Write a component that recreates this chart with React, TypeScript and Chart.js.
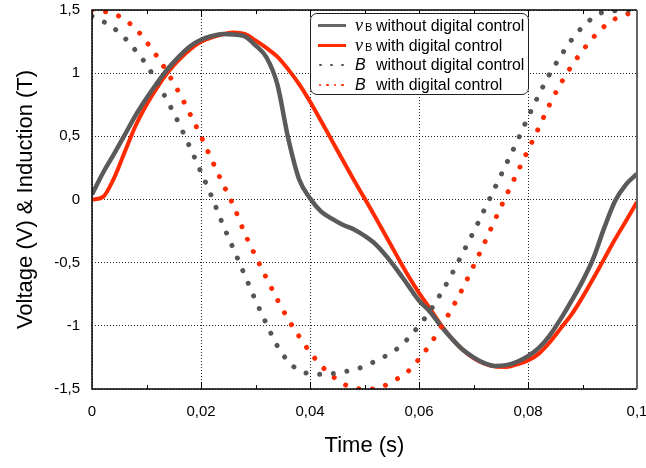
import React, { useEffect, useRef } from 'react';
import { Chart, registerables } from 'chart.js';

Chart.register(...registerables);

// Time samples (s)
const TIME = [
  0, 0.002, 0.004, 0.006, 0.008, 0.01, 0.012, 0.014, 0.016, 0.018,
  0.02, 0.022, 0.024, 0.026, 0.028, 0.03, 0.032, 0.034, 0.036, 0.038,
  0.04, 0.042, 0.044, 0.046, 0.048, 0.05, 0.052, 0.054, 0.056, 0.058,
  0.06, 0.062, 0.064, 0.066, 0.068, 0.07, 0.072, 0.074, 0.076, 0.078,
  0.08, 0.082, 0.084, 0.086, 0.088, 0.09, 0.092, 0.094, 0.096, 0.098, 0.1,
];

// vB without digital control (V)
const VB_WITHOUT = [
  0.04, 0.21, 0.358, 0.511, 0.666, 0.801, 0.926, 1.039, 1.133, 1.213,
  1.265, 1.294, 1.311, 1.306, 1.292, 1.22, 1.126, 0.913, 0.485, 0.16,
  0.01, -0.094, -0.152, -0.2, -0.235, -0.287, -0.353, -0.448, -0.559, -0.68,
  -0.8, -0.888, -0.999, -1.1, -1.187, -1.249, -1.295, -1.317, -1.311, -1.285,
  -1.24, -1.175, -1.075, -0.945, -0.8, -0.646, -0.464, -0.223, -0.01, 0.12, 0.203,
];

// vB with digital control (V)
const VB_WITH = [
  0.0, 0.02, 0.166, 0.376, 0.584, 0.75, 0.89, 1.011, 1.107, 1.188,
  1.248, 1.284, 1.308, 1.322, 1.31, 1.26, 1.2, 1.131, 1.03, 0.914,
  0.776, 0.623, 0.468, 0.313, 0.158, 0.01, -0.14, -0.295, -0.45, -0.602,
  -0.739, -0.862, -0.99, -1.1, -1.19, -1.255, -1.3, -1.322, -1.325, -1.305,
  -1.275, -1.22, -1.13, -1.02, -0.91, -0.773, -0.624, -0.468, -0.313, -0.168, -0.02,
];

// B without digital control (T)
const B_WITHOUT = [
  1.45, 1.41, 1.356, 1.279, 1.179, 1.067, 0.922, 0.767, 0.597, 0.411,
  0.217, 0.019, -0.197, -0.395, -0.596, -0.797, -0.983, -1.159, -1.281, -1.353,
  -1.379, -1.383, -1.378, -1.366, -1.347, -1.321, -1.279, -1.236, -1.181, -1.1,
  -0.999, -0.884, -0.745, -0.593, -0.426, -0.257, -0.08, 0.1, 0.28, 0.46,
  0.65, 0.83, 0.995, 1.135, 1.263, 1.366, 1.441, 1.486, 1.494, 1.5, 1.5,
];

// B with digital control (T)
const B_WITH = [
  1.5, 1.49, 1.47, 1.423, 1.352, 1.247, 1.129, 0.994, 0.843, 0.676,
  0.5, 0.311, 0.126, -0.053, -0.265, -0.447, -0.621, -0.791, -0.948, -1.084,
  -1.208, -1.313, -1.393, -1.457, -1.49, -1.5, -1.5, -1.467, -1.42, -1.36,
  -1.263, -1.148, -1.015, -0.866, -0.704, -0.526, -0.345, -0.154, 0.03, 0.21,
  0.39, 0.57, 0.755, 0.917, 1.057, 1.178, 1.283, 1.37, 1.43, 1.465, 1.49,
];

const X_MINOR_TICKS = [0.01, 0.03, 0.05, 0.07, 0.09];
const X_MAJOR_TICKS = [0.02, 0.04, 0.06, 0.08];

const GRAY = '#5a5a5a';
const RED = '#ff2a00';
const FONT = '"Liberation Sans", Arial, Helvetica, sans-serif';

const fmt = (v: number) => String(Math.round(v * 100) / 100).replace('.', ',');
const pts = (ys: number[]) => TIME.map((t, i) => ({ x: t, y: ys[i] }));

const framePlugin = {
  id: 'frame',
  afterDraw(chart: any) {
    const { ctx, chartArea: a, scales } = chart;
    ctx.save();
    ctx.strokeStyle = '#000';
    ctx.lineWidth = 1;
    ctx.setLineDash([]);
    for (const v of X_MINOR_TICKS) {
      const x = Math.round(scales.x.getPixelForValue(v)) + 0.5;
      ctx.beginPath();
      ctx.moveTo(x, a.bottom);
      ctx.lineTo(x, a.bottom - 4);
      ctx.moveTo(x, a.top);
      ctx.lineTo(x, a.top + 4);
      ctx.stroke();
    }
    for (const v of X_MAJOR_TICKS) {
      const x = Math.round(scales.x.getPixelForValue(v)) + 0.5;
      ctx.beginPath();
      ctx.moveTo(x, a.bottom);
      ctx.lineTo(x, a.bottom - 7);
      ctx.moveTo(x, a.top);
      ctx.lineTo(x, a.top + 7);
      ctx.stroke();
    }
    ctx.lineWidth = 1.5;
    ctx.strokeStyle = '#000';
    ctx.beginPath();
    ctx.moveTo(a.right, a.top);
    ctx.lineTo(a.left, a.top);
    ctx.lineTo(a.left, a.bottom);
    ctx.lineTo(a.right, a.bottom);
    ctx.stroke();
    ctx.strokeStyle = '#666';
    ctx.lineWidth = 2;
    ctx.beginPath();
    ctx.moveTo(a.right, a.top);
    ctx.lineTo(a.right, a.bottom);
    ctx.stroke();
    ctx.restore();
  },
};

const ROWS_Y = [25.7, 45.6, 65.3, 85.1];

function Legend() {
  const base: React.CSSProperties = { position: 'fixed', zIndex: 2, whiteSpace: 'nowrap', color: '#000' };
  const desc = ['without digital control', 'with digital control', 'without digital control', 'with digital control'];
  return (
    <>
      <div
        style={{
          position: 'fixed', zIndex: 1, left: 310, top: 13, width: 219, height: 82,
          border: '1px solid #222', borderRadius: 7, background: '#fff', boxSizing: 'border-box',
        }}
      />
      {ROWS_Y.map((cy, i) => (
        <React.Fragment key={i}>
          {i < 2 ? (
            <div style={{ ...base, left: 318, top: cy - 1.5, width: 28, height: 3, background: i === 0 ? '#666' : RED }} />
          ) : (
            (i === 2 ? [320.5, 331.5, 342.5] : [320, 327.5, 335, 342.5]).map((x, k) => (
              <div key={k} style={{ ...base, left: x - 1.2, top: cy - 1.2, width: 2.4, height: 2.4, borderRadius: '50%', background: i === 2 ? '#555' : RED }} />
            ))
          )}
          {i < 2 ? (
            <>
              <span style={{ ...base, left: 355, top: cy - 11, lineHeight: '20px', fontFamily: '"Liberation Serif", "DejaVu Serif", serif', fontStyle: 'italic', fontSize: 18 }}>v</span>
              <span style={{ ...base, left: 365, top: cy - 7, lineHeight: '16px', fontFamily: FONT, fontSize: 11 }}>B</span>
            </>
          ) : (
            <span style={{ ...base, left: 355, top: cy - 10, lineHeight: '20px', fontFamily: FONT, fontStyle: 'italic', fontSize: 16 }}>B</span>
          )}
          <span style={{ ...base, left: 376, top: cy - 10, lineHeight: '20px', fontFamily: FONT, fontSize: 15.9 }}>{desc[i]}</span>
        </React.Fragment>
      ))}
    </>
  );
}

export default function App() {
  const ref = useRef<HTMLCanvasElement>(null);

  useEffect(() => {
    if (!ref.current) return;
    const dotted = (color: string, data: number[]) => ({
      data: pts(data),
      borderColor: color,
      backgroundColor: color,
      borderWidth: 5,
      borderDash: [0.01, 13.7],
      borderCapStyle: 'round' as const,
      pointRadius: 0,
      cubicInterpolationMode: 'monotone' as const,
      clip: 0,
    });
    const solid = (color: string, data: number[], w: number) => ({
      data: pts(data),
      borderColor: color,
      backgroundColor: color,
      borderWidth: w,
      pointRadius: 0,
      cubicInterpolationMode: 'monotone' as const,
      clip: 0,
    });
    const noPad = (s: any) => {
      s.paddingLeft = 0;
      s.paddingRight = 0;
      s.paddingTop = 0;
      s.paddingBottom = 0;
    };

    const chart = new Chart(ref.current, {
      type: 'line',
      data: {
        datasets: [
          { label: 'B without digital control', ...dotted('#555555', B_WITHOUT) },
          { label: 'B with digital control', ...dotted(RED, B_WITH) },
          { label: 'vB without digital control', ...solid(GRAY, VB_WITHOUT, 4.5) },
          { label: 'vB with digital control', ...solid(RED, VB_WITH, 4) },
        ],
      } as any,
      options: {
        responsive: false,
        animation: false,
        layout: { padding: { left: 0, right: 9, top: 10, bottom: 0 }, autoPadding: false } as any,
        plugins: { legend: { display: false }, tooltip: { enabled: false } },
        scales: {
          x: {
            type: 'linear',
            min: 0,
            max: 0.1,
            ticks: {
              stepSize: 0.02,
              padding: 14,
              color: '#000',
              font: { size: 15, family: FONT },
              maxRotation: 0,
              callback: (v: any) => fmt(Number(v)),
            },
            grid: { color: '#222', lineWidth: 1, drawTicks: false },
            border: { display: false, dash: [1, 2] },
            title: {
              display: true,
              text: 'Time (s)',
              color: '#000',
              font: { size: 22, family: FONT },
              padding: { top: 0, bottom: 9 },
            },
            afterFit: (s: any) => { s.height = 79; noPad(s); },
          },
          y: {
            type: 'linear',
            min: -1.5,
            max: 1.5,
            ticks: {
              stepSize: 0.5,
              padding: 12,
              color: '#000',
              font: { size: 15, family: FONT },
              callback: (v: any) => fmt(Number(v)),
            },
            grid: { color: '#222', lineWidth: 1, drawTicks: false },
            border: { display: false, dash: [1, 2] },
            title: {
              display: true,
              text: 'Voltage (V) & Induction (T)',
              color: '#000',
              font: { size: 22, family: FONT },
              padding: { top: 13, bottom: 0 },
            },
            afterFit: (s: any) => { s.width = 92; noPad(s); },
          },
        },
      } as any,
      plugins: [framePlugin],
    });
    return () => chart.destroy();
  }, []);

  return (
    <>
      <canvas ref={ref} width={646} height={468} style={{ position: 'fixed', left: 0, top: 0 }} />
      <Legend />
    </>
  );
}
